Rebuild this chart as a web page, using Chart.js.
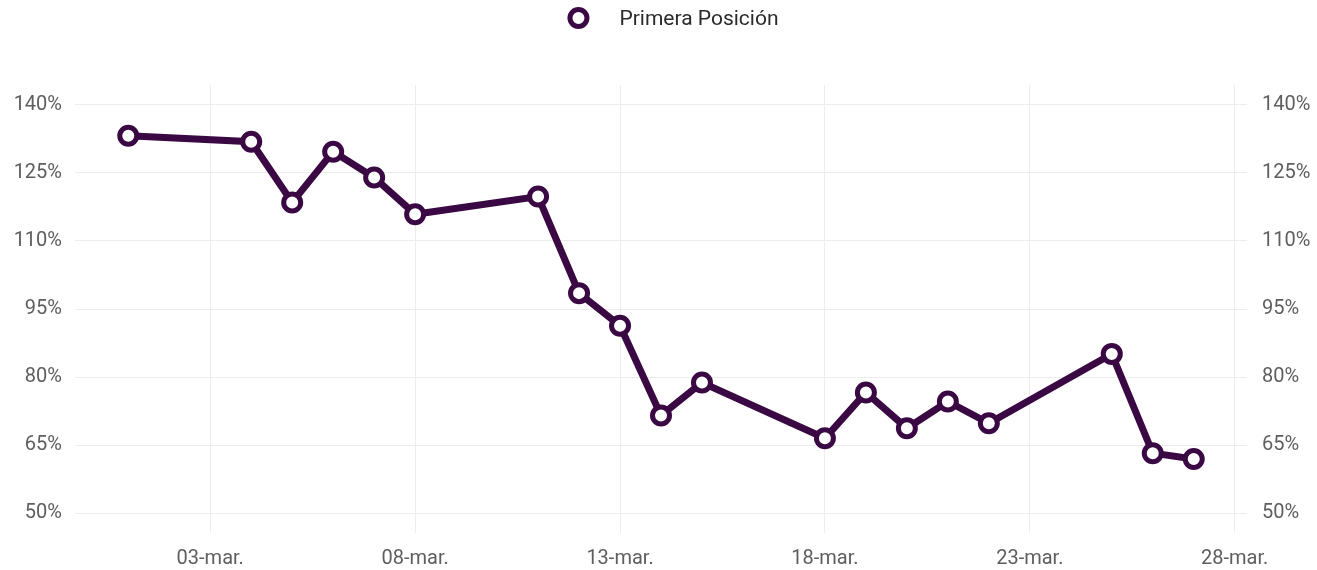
<!DOCTYPE html>
<html>
<head>
<meta charset="utf-8">
<script src="https://cdn.jsdelivr.net/npm/chart.js@4"></script>
<style>
  html, body { margin: 0; padding: 0; background: #fff; }
  #wrap { width: 1317px; height: 570px; }
</style>
</head>
<body>
<div id="wrap"><canvas id="chart"></canvas></div>
<script>
// day of March for each measurement
const days = [1, 4, 5, 6, 7, 8, 11, 12, 13, 14, 15, 18, 19, 20, 21, 22, 25, 26, 27]
const primeraPosicion = [133.2, 131.9, 118.5, 129.7, 124.0, 115.9, 119.8, 98.5, 91.3, 71.5, 78.8, 66.5, 76.6, 68.7, 74.6, 69.8, 85.1, 63.2, 61.9]
const xTicks = [3, 8, 13, 18, 23, 28]
const yTicks = [50, 65, 80, 95, 110, 125, 140]
const seriesName = 'Primera Posición'

const purple = '#3a0843'
const tickColor = '#5e5e5e'
const tickFont = { family: 'Roboto', size: 20 }

const points = days.map((d, i) => ({ x: d, y: primeraPosicion[i] }))

const fixTicks = (list) => (scale) => {
  scale.ticks = list.map(v => ({ value: v }))
}

// legend drawn by hand so the gap between marker and text matches
const topLegend = {
  id: 'topLegend',
  afterDraw(chart) {
    const ctx = chart.ctx
    ctx.save()
    ctx.font = '21px Roboto'
    const textW = ctx.measureText(seriesName).width
    const gap = 41
    const cx = chart.width / 2 - (gap + textW) / 2 + 20
    const cy = 18
    ctx.beginPath()
    ctx.arc(cx, cy, 8.5, 0, Math.PI * 2)
    ctx.fillStyle = '#fff'
    ctx.fill()
    ctx.lineWidth = 5
    ctx.strokeStyle = purple
    ctx.stroke()
    ctx.fillStyle = '#2b2b2b'
    ctx.textBaseline = 'middle'
    ctx.textAlign = 'left'
    ctx.fillText(seriesName, cx + gap, cy + 2)
    ctx.restore()
  }
}

new Chart(document.getElementById('chart'), {
  type: 'line',
  data: {
    datasets: [{
      label: seriesName,
      data: points,
      borderColor: purple,
      backgroundColor: purple,
      borderWidth: 7,
      pointRadius: 8.5,
      pointHoverRadius: 8.5,
      pointBorderWidth: 5,
      pointBackgroundColor: '#fff',
      pointBorderColor: purple,
      tension: 0
    }]
  },
  options: {
    responsive: true,
    maintainAspectRatio: false,
    animation: false,
    layout: { padding: { top: 85, left: 0, right: 0, bottom: 0 } },
    plugins: {
      tooltip: { enabled: false },
      legend: { display: false }
    },
    scales: {
      x: {
        type: 'linear',
        min: -0.3,
        max: 28.3,
        afterBuildTicks: fixTicks(xTicks),
        afterFit(scale) { scale.height = 37 },
        grid: { color: '#ececec', drawTicks: false },
        border: { display: false },
        ticks: {
          color: tickColor,
          font: tickFont,
          padding: 14,
          maxRotation: 0,
          callback: v => String(v).padStart(2, '0') + '-mar.'
        }
      },
      y: {
        position: 'left',
        min: 45.6,
        max: 144.4,
        afterBuildTicks: fixTicks(yTicks),
        afterFit(scale) { scale.width = 75 },
        grid: { color: '#ececec', drawTicks: false },
        border: { display: false },
        ticks: { color: tickColor, font: tickFont, padding: 13, callback: v => v + '%' }
      },
      y2: {
        position: 'right',
        min: 45.6,
        max: 144.4,
        afterBuildTicks: fixTicks(yTicks),
        afterFit(scale) { scale.width = 70 },
        grid: { display: false },
        border: { display: false },
        ticks: { color: tickColor, font: tickFont, padding: 7, callback: v => v + '%' }
      }
    }
  },
  plugins: [topLegend]
})
</script>
</body>
</html>
